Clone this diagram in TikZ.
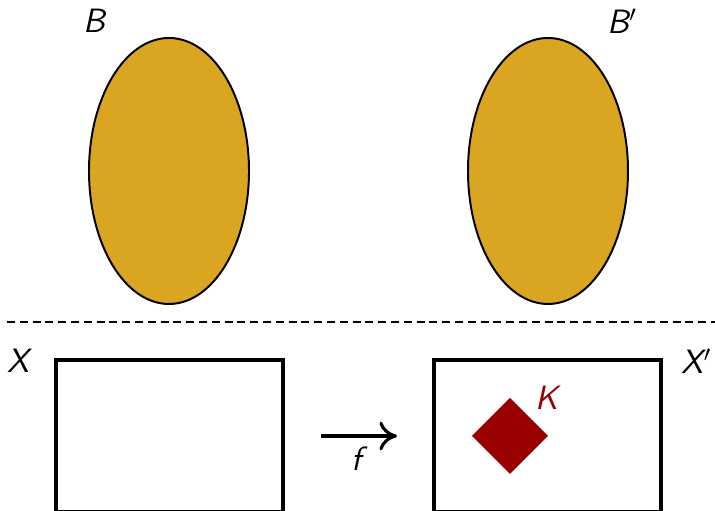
\documentclass[tikz,border=0pt]{standalone}
\usepackage{tikz}
\usetikzlibrary{calc,positioning}
\usetikzlibrary{arrows.meta}

\definecolor{bundlegold}{RGB}{218,165,32}
\definecolor{kred}{RGB}{153,0,0}

\begin{document}
\begin{tikzpicture}[font=\sffamily\itshape\large,
                    fibre/.style={draw=black,line width=0.7pt,fill=bundlegold},
                    basebox/.style={draw=black,line width=1.1pt},
                    maparrow/.style={line width=1.1pt,-{To[length=2.2mm,width=3.6mm]}}]
								 \useasboundingbox (0mm,0mm) rectangle (89.375mm,63.875mm);
								 %\draw[color=gray,step=1mm, help lines,opacity=0.3] (0mm,0mm) grid (89mm,63mm); %help grids
								 \def\fibre#1{
												\draw[fibre] #1 ellipse [x radius=10mm, y radius=16.625mm];
								 };
								 \fibre{(21.125mm,42.5mm)};
								 \fibre{(68.5mm,42.5mm)};
								 \node (B) at (11.75mm,61.25mm) {B};
								 \node (Bp) at (77.8mm,61.25mm) {B$'$};
								 \draw[line width=0.7pt,dash pattern=on 1mm off 0.6mm] (0.875mm,23.625mm)--(89.375mm,23.625mm);
								 \draw[basebox] (7mm,-0.12mm) rectangle (35.375mm,18.875mm);
								 \draw[basebox] (54.25mm,-0.12mm) rectangle (82.625mm,18.875mm);
								 \node (X) at (2.25mm,18.75mm) {X};
								 \node (Xp) at (87.1mm,18.75mm) {X$'$};
								 \coordinate (fstart) at (40.125mm,9.375mm);
								 \coordinate (fend) at (49.625mm,9.375mm);
								 \draw[maparrow] (fstart)--(fend);
								 \node (f) at (44.625mm,6.5mm) {f};
								 \fill[kred] (63.75mm,14.125mm)--(68.5mm,9.375mm)--(63.75mm,4.625mm)--(59mm,9.375mm)--cycle;
								 \node[text=kred] (K) at (68.375mm,14.125mm) {K};
\end{tikzpicture}
\end{document}
